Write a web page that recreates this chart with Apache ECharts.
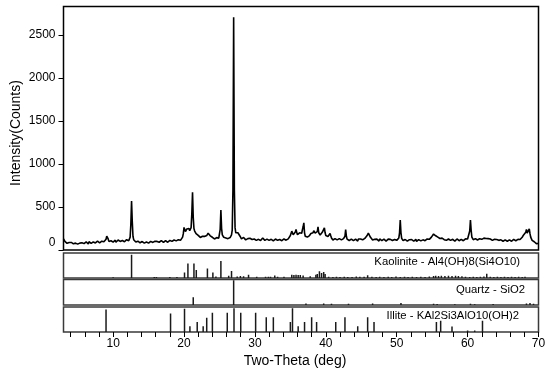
<!DOCTYPE html>
<html>
<head>
<meta charset="utf-8">
<title>XRD pattern</title>
<script src="https://cdn.jsdelivr.net/npm/echarts@6/dist/echarts.min.js"></script>
<style>
  html, body { margin: 0; padding: 0; background: #fff; }
  #chart { width: 550px; height: 374px; }
</style>
</head>
<body>
<div id="chart"></div>
<script>
// measured pattern, 2theta from 3.0 to 70.0 every 0.1 deg
const twoThetaStart = 3.0
const twoThetaStep = 0.1
const intensity = [
  130, 112, 100, 84, 95, 78, 90, 72, 88, 76,        // 3
  70, 88, 66, 84, 72, 90, 68, 80, 62, 82,           // 4
  68, 86, 64, 80, 92, 70, 84, 66, 88, 74,           // 5
  90, 72, 94, 78, 88, 70, 96, 80, 92, 76,           // 6
  98, 80, 94, 84, 100, 82, 96, 88, 104, 86,         // 7
  100, 84, 106, 90, 102, 88, 110, 96, 108, 118,     // 8
  125, 160, 150, 128, 100, 112, 94, 108, 90, 106,   // 9
  92, 110, 96, 114, 90, 108, 98, 116, 94, 110,      // 10
  100, 116, 94, 110, 104, 118, 96, 112, 100, 120,   // 11
  104, 118, 108, 124, 150, 300, 570, 330, 160, 120, // 12
  100, 112, 92, 106, 86, 102, 90, 108, 84, 100,     // 13
  82, 98, 78, 96, 80, 94, 76, 92, 84, 98,           // 14
  80, 96, 84, 100, 82, 98, 88, 104, 86, 102,        // 15
  92, 122, 100, 88, 106, 90, 104, 86, 108, 92,      // 16
  104, 88, 106, 92, 110, 94, 102, 90, 108, 96,      // 17
  112, 96, 114, 100, 118, 102, 116, 98, 120, 106,   // 18
  122, 104, 120, 108, 124, 112, 126, 132, 150, 190, // 19
  262, 240, 215, 228, 245, 238, 262, 250, 225, 230, // 20
  260, 420, 671, 380, 250, 220, 205, 190, 175, 168, // 21
  170, 150, 162, 146, 166, 142, 160, 148, 164, 158, // 22
  162, 158, 168, 180, 196, 204, 185, 165, 152, 145, // 23
  148, 130, 145, 128, 150, 132, 144, 126, 146, 138, // 24
  150, 240, 464, 250, 175, 158, 148, 142, 138, 140, // 25
  136, 148, 132, 146, 138, 145, 158, 175, 230, 700, // 26
  2706, 700, 260, 200, 180, 190, 200, 212, 180, 160, // 27
  150, 130, 138, 122, 146, 126, 134, 118, 140, 124, // 28
  132, 144, 120, 136, 116, 130, 122, 138, 114, 128, // 29
  110, 130, 112, 126, 108, 124, 114, 132, 110, 124, // 30
  118, 140, 150, 126, 112, 128, 110, 126, 114, 130, // 31
  112, 128, 108, 124, 114, 130, 106, 126, 110, 128, // 32
  108, 126, 112, 130, 104, 122, 114, 128, 108, 124, // 33
  110, 128, 112, 130, 114, 132, 118, 130, 138, 150, // 34
  168, 190, 219, 200, 178, 170, 182, 210, 240, 205, // 35
  178, 165, 172, 200, 215, 185, 195, 235, 270, 316, // 36
  200, 160, 140, 145, 150, 160, 172, 168, 180, 192, // 37
  175, 185, 200, 225, 238, 195, 175, 190, 215, 269, // 38
  200, 185, 175, 178, 195, 205, 198, 220, 258, 200, // 39
  168, 150, 152, 158, 168, 180, 192, 165, 140, 130, // 40
  116, 134, 114, 132, 112, 130, 118, 136, 114, 132, // 41
  120, 134, 118, 132, 125, 132, 140, 160, 238, 160, // 42
  126, 112, 128, 110, 124, 106, 126, 112, 122, 108, // 43
  124, 106, 126, 110, 122, 104, 128, 112, 124, 128, // 44
  120, 132, 118, 134, 125, 135, 140, 150, 165, 180, // 45
  195, 211, 175, 148, 135, 128, 116, 130, 112, 124, // 46
  128, 108, 126, 110, 124, 104, 128, 112, 122, 108, // 47
  124, 106, 126, 110, 128, 104, 122, 108, 126, 110, // 48
  104, 124, 108, 126, 110, 128, 106, 122, 112, 126, // 49
  112, 126, 118, 140, 200, 347, 200, 135, 120, 110, // 50
  126, 104, 122, 108, 126, 102, 124, 106, 120, 104, // 51
  100, 122, 104, 124, 102, 120, 106, 124, 100, 118, // 52
  104, 120, 100, 122, 106, 124, 102, 118, 108, 124, // 53
  108, 126, 112, 128, 114, 130, 124, 138, 140, 150, // 54
  158, 170, 185, 199, 175, 165, 158, 160, 150, 145, // 55
  148, 134, 142, 126, 138, 122, 134, 120, 132, 116, // 56
  112, 130, 110, 128, 108, 126, 112, 130, 106, 124, // 57
  108, 126, 104, 124, 110, 128, 106, 122, 108, 126, // 58
  106, 124, 110, 128, 108, 126, 112, 130, 116, 128, // 59
  128, 135, 150, 220, 347, 230, 150, 132, 120, 134, // 60
  118, 132, 114, 130, 116, 134, 118, 132, 116, 134, // 61
  124, 136, 122, 138, 128, 140, 134, 145, 152, 132, // 62
  130, 110, 128, 108, 126, 112, 130, 106, 124, 110, // 63
  104, 122, 102, 120, 112, 126, 108, 118, 104, 120, // 64
  102, 120, 100, 118, 104, 116, 102, 122, 100, 118, // 65
  100, 118, 102, 120, 106, 124, 104, 120, 108, 124, // 66
  106, 124, 110, 128, 122, 134, 136, 148, 160, 175, // 67
  165, 180, 205, 240, 195, 180, 210, 245, 190, 150, // 68
  136, 112, 110, 94, 96, 82, 90, 74, 82, 72,        // 69
  75                                                // 70
]

// reference sticks: [2theta, relative height %]
const kaoliniteSticks = [
  [10.0, 3], [12.6, 93], [15.8, 4], [16.1, 4], [18.0, 4], [19.0, 4],
  [20.07, 22], [20.55, 58], [21.4, 58], [21.73, 32], [23.3, 38], [24.07, 22],
  [24.5, 6], [25.2, 68], [26.3, 9], [26.7, 28], [27.5, 6], [27.95, 8],
  [28.4, 7], [29.1, 13], [30.25, 5], [31.5, 5], [31.9, 5], [32.2, 5],
  [32.8, 10], [33.2, 5], [34.1, 5], [35.2, 13], [35.5, 12], [35.8, 13],
  [36.1, 12], [36.4, 12], [36.8, 10], [37.8, 7], [38.6, 13], [38.8, 16],
  [39.1, 27], [39.4, 20], [39.7, 24], [39.9, 16], [40.4, 5], [41.0, 4],
  [41.5, 5], [42.0, 4], [42.6, 5], [43.1, 4], [43.7, 4], [44.3, 6],
  [44.8, 5], [45.4, 5], [45.9, 11], [46.5, 5], [47.1, 4], [47.6, 5],
  [48.2, 4], [48.8, 5], [49.3, 4], [49.9, 6], [50.5, 4], [51.1, 5],
  [51.6, 4], [52.2, 5], [52.8, 4], [53.4, 5], [54.0, 4], [54.6, 6],
  [55.2, 8], [55.5, 9], [55.9, 8], [56.3, 9], [56.8, 8], [57.3, 9],
  [57.8, 8], [58.3, 9], [58.7, 8], [59.2, 7], [59.7, 5], [60.3, 4],
  [60.8, 5], [61.3, 4], [61.8, 5], [62.3, 6], [62.7, 17], [63.2, 5],
  [63.7, 4], [64.2, 5], [64.7, 4], [65.2, 5], [65.7, 4], [66.2, 5],
  [66.7, 4], [67.2, 5], [67.7, 4], [68.1, 5]
]
const quartzSticks = [
  [21.3, 30], [27.0, 97], [37.2, 6], [39.7, 6], [40.8, 5], [43.2, 5],
  [46.6, 6], [50.6, 8], [55.2, 5], [55.7, 4], [58.2, 3], [60.4, 5],
  [61.0, 3], [63.6, 4], [68.3, 6], [68.8, 8], [69.3, 5]
]
const illiteSticks = [
  [9.0, 90], [18.1, 74], [20.07, 93], [20.83, 23], [21.86, 40], [22.7, 23],
  [23.2, 57], [24.0, 77], [26.1, 77], [27.05, 95], [28.0, 77], [30.1, 77],
  [31.6, 59], [32.6, 59], [35.0, 40], [35.3, 95], [36.1, 23], [37.0, 40],
  [38.0, 59], [38.7, 40], [41.4, 40], [42.7, 59], [44.5, 23], [45.9, 59],
  [46.8, 40], [55.6, 40], [56.2, 45], [57.8, 22], [60.0, 6], [61.0, 6],
  [62.1, 45]
]

const phaseNames = [
  'Kaolinite - Al4(OH)8(Si4O10)',
  'Quartz - SiO2',
  'Illite - KAl2Si3AlO10(OH)2'
]

const yTickValues = [0, 500, 1000, 1500, 2000, 2500]
const xTickValues = [4, 6, 8, 10, 12, 14, 16, 18, 20, 22, 24, 26, 28, 30, 32, 34, 36,
  38, 40, 42, 44, 46, 48, 50, 52, 54, 56, 58, 60, 62, 64, 66, 68, 70]
const xTickLabels = [10, 20, 30, 40, 50, 60, 70]

const font = "'Liberation Sans', Arial, sans-serif"
const plotLeft = 63.5
const plotWidth = 475

const pattern = intensity.map((v, i) => [+(twoThetaStart + i * twoThetaStep).toFixed(1), v])

let myChart = echarts.init(document.getElementById('chart'), null, { renderer: 'canvas' })

// grids: main pattern + three stick panels
const gridBoxes = [
  { top: 6.5, height: 243.5, color: '#000' },
  { top: 253, height: 25, color: '#3a3a3a' },
  { top: 279.5, height: 25.5, color: '#3a3a3a' },
  { top: 307, height: 25, color: '#3a3a3a' },
]

const xAxes = gridBoxes.map((g, i) => {
  const last = i === gridBoxes.length - 1
  return {
    type: 'value',
    gridIndex: i,
    min: 3,
    max: 70,
    axisLine: { show: false },
    splitLine: { show: false },
    axisTick: {
      show: last,
      inside: false,
      length: 5,
      customValues: xTickValues,
      lineStyle: { color: '#000', width: 1 }
    },
    axisLabel: {
      show: last,
      customValues: xTickLabels,
      margin: 6,
      color: '#000',
      fontSize: 12,
      fontFamily: font
    }
  }
})

const yAxes = gridBoxes.map((g, i) => {
  if (i === 0) {
    return {
      type: 'value',
      gridIndex: 0,
      min: 0,
      max: 2830,
      axisLine: { show: false },
      splitLine: { show: false },
      axisTick: {
        show: true,
        length: 5,
        customValues: yTickValues,
        lineStyle: { color: '#000', width: 1 }
      },
      axisLabel: {
        customValues: yTickValues,
        margin: 8,
        color: '#000',
        fontSize: 12,
        fontFamily: font,
        formatter: v => (v === 0 ? '{lift|0}' : String(v)),
        rich: { lift: { padding: [0, 0, 14, 0], fontSize: 12, fontFamily: font, color: '#000' } }
      }
    }
  }
  return {
    type: 'value',
    gridIndex: i,
    min: 0,
    max: 100,
    show: false
  }
})

const stickSets = [kaoliniteSticks, quartzSticks, illiteSticks]

myChart.setOption({
  animation: false,
  backgroundColor: '#fff',
  grid: gridBoxes.map(g => ({
    left: plotLeft,
    top: g.top,
    width: plotWidth,
    height: g.height,
    show: true,
    borderColor: g.color,
    borderWidth: 1.5,
    backgroundColor: 'transparent'
  })),
  xAxis: xAxes,
  yAxis: yAxes,
  graphic: [
    {
      type: 'text',
      x: 16,
      y: 133,
      rotation: Math.PI / 2,
      style: {
        text: 'Intensity(Counts)',
        font: '14px ' + font,
        fill: '#000',
        align: 'center',
        verticalAlign: 'middle'
      }
    },
    {
      type: 'text',
      x: 295,
      y: 361,
      style: {
        text: 'Two-Theta (deg)',
        font: '14px ' + font,
        fill: '#000',
        align: 'center',
        verticalAlign: 'middle'
      }
    },
    {
      type: 'text', x: 520, y: 262,
      style: { text: phaseNames[0], font: '11.3px ' + font, fill: '#000', align: 'right', verticalAlign: 'middle' }
    },
    {
      type: 'text', x: 525, y: 289.5,
      style: { text: phaseNames[1], font: '11.3px ' + font, fill: '#000', align: 'right', verticalAlign: 'middle' }
    },
    {
      type: 'text', x: 519, y: 316,
      style: { text: phaseNames[2], font: '11.3px ' + font, fill: '#000', align: 'right', verticalAlign: 'middle' }
    }
  ],
  series: [
    {
      type: 'line',
      xAxisIndex: 0,
      yAxisIndex: 0,
      data: pattern,
      showSymbol: false,
      sampling: 'none',
      lineStyle: { color: '#000', width: 1.6 },
      silent: true
    },
    ...stickSets.map((sticks, i) => ({
      type: 'bar',
      xAxisIndex: i + 1,
      yAxisIndex: i + 1,
      data: sticks,
      barWidth: 1.5,
      itemStyle: { color: '#1a1a1a' },
      silent: true
    }))
  ]
})
</script>
</body>
</html>
